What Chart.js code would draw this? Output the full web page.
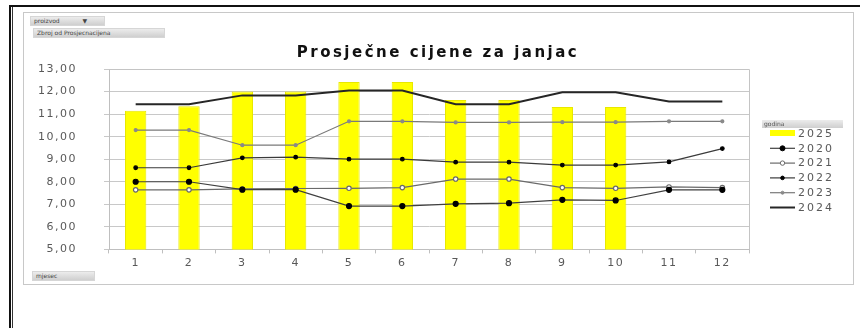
<!DOCTYPE html>
<html>
<head>
<meta charset="utf-8">
<script src="https://cdn.jsdelivr.net/npm/chart.js@4.4.1/dist/chart.umd.min.js"></script>
<style>
  html, body { margin: 0; padding: 0; background: #fff; }
  body { width: 860px; height: 328px; position: relative; overflow: hidden; font-family: "DejaVu Sans", sans-serif; }
  .crnaTop { position: absolute; left: 9px; top: 5px; width: 851px; height: 2px; background: #111; }
  .crnaLijevo { position: absolute; left: 9px; top: 5px; width: 2px; height: 323px; background: #111; }
  .crnaLijevo2 { position: absolute; left: 12px; top: 7px; width: 1px; height: 321px; background: #333; }
  .okvir { position: absolute; left: 23px; top: 12px; width: 829px; height: 271px; border: 1px solid #c8c8c8; }
  .gumb { position: absolute; height: 8px; font-size: 6px; line-height: 8px; color: #444; padding-left: 3px;
          background: linear-gradient(#ececec, #cfcfcf); border: 1px solid #d6d6d6; box-sizing: content-box; white-space: nowrap; }
  #grafWrap { position: absolute; left: 23px; top: 12px; width: 830px; height: 271px; }
</style>
</head>
<body>
<div class="crnaTop"></div>
<div class="crnaLijevo"></div>
<div class="crnaLijevo2"></div>
<div class="okvir"></div>
<div class="gumb" style="left:30px; top:16px; width:70px;">proizvod &nbsp;&nbsp;&nbsp;&nbsp;&nbsp;&nbsp;&nbsp;&nbsp;&nbsp;&nbsp;&nbsp;&#9660;</div>
<div class="gumb" style="left:33px; top:28px; width:127px;">Zbroj od Prosjecnacijena</div>
<div class="gumb" style="left:32px; top:271px; width:58px;">mjesec</div>
<div id="grafWrap"><canvas id="grafica" width="830" height="271"></canvas></div>

<script>
// mjeseci i vrijednosti po godinama
const mjeseci = ['1', '2', '3', '4', '5', '6', '7', '8', '9', '10', '11', '12'];
const god2025 = [11.15, 11.35, 12.0, 12.0, 12.42, 12.42, 11.62, 11.62, 11.32, 11.32, null, null];
const god2020 = [8.0, 8.0, 7.65, 7.65, 6.92, 6.92, 7.02, 7.05, 7.2, 7.17, 7.64, 7.64];
const god2021 = [7.64, 7.64, 7.68, 7.7, 7.71, 7.74, 8.12, 8.12, 7.74, 7.71, 7.77, 7.74];
const god2022 = [8.62, 8.62, 9.06, 9.09, 9.0, 9.0, 8.87, 8.87, 8.74, 8.74, 8.88, 9.47];
const god2023 = [10.29, 10.29, 9.62, 9.62, 10.68, 10.68, 10.63, 10.63, 10.64, 10.64, 10.68, 10.68];
const god2024 = [11.44, 11.44, 11.83, 11.83, 12.05, 12.05, 11.44, 11.44, 11.97, 11.97, 11.56, 11.56];
const yTicks = [5, 6, 7, 8, 9, 10, 11, 12, 13];

const naslov = 'Prosječne cijene za janjac';
const sivaTekst = '#595959';

// naslov, okvir oko podrucja grafa + legenda kao u Excelu
const okvirPlugin = {
    id: 'okvirPlugin',
    beforeDraw(chart) {
        chart.ctx.letterSpacing = '1.5px';
    },
    afterDraw(chart) {
        const ctx = chart.ctx;
        const a = chart.chartArea;
        ctx.save();

        // naslov
        ctx.letterSpacing = '2.5px';
        ctx.font = 'bold 15px "DejaVu Sans"';
        ctx.fillStyle = '#111';
        ctx.textAlign = 'center';
        ctx.textBaseline = 'middle';
        ctx.fillText(naslov, chart.width / 2, 41);
        ctx.textAlign = 'left';

        ctx.strokeStyle = '#c4c4c4';
        ctx.lineWidth = 1;
        ctx.beginPath();
        ctx.moveTo(a.left, a.top + 0.5);
        ctx.lineTo(a.right + 0.5, a.top + 0.5);
        ctx.lineTo(a.right + 0.5, a.bottom);
        ctx.stroke();

        // legenda
        const lx = a.right + 21;
        let ly = a.top + 64;
        const naslovGrad = ctx.createLinearGradient(0, ly - 13, 0, ly - 5);
        naslovGrad.addColorStop(0, '#ececec');
        naslovGrad.addColorStop(1, '#cfcfcf');
        ctx.fillStyle = naslovGrad;
        ctx.fillRect(lx - 8, ly - 13, 81, 8);
        ctx.letterSpacing = '0px';
        ctx.font = '6px "DejaVu Sans"';
        ctx.fillStyle = '#555';
        ctx.fillText('godina', lx - 6, ly - 9);

        ctx.letterSpacing = '2px';
        ctx.font = '11px "DejaVu Sans"';
        chart.data.datasets.forEach(ds => {
            if (ds.type === 'bar') {
                ctx.fillStyle = ds.backgroundColor;
                ctx.fillRect(lx, ly - 3, 25, 6);
            } else {
                ctx.strokeStyle = ds.borderColor;
                ctx.lineWidth = ds.borderWidth;
                ctx.beginPath();
                ctx.moveTo(lx, ly + 0.5);
                ctx.lineTo(lx + 25, ly + 0.5);
                ctx.stroke();
                if (ds.pointRadius > 0) {
                    ctx.beginPath();
                    ctx.arc(lx + 12.5, ly + 0.5, ds.pointRadius, 0, Math.PI * 2);
                    ctx.fillStyle = ds.pointBackgroundColor;
                    ctx.fill();
                    ctx.lineWidth = 1;
                    ctx.strokeStyle = ds.pointBorderColor;
                    ctx.stroke();
                }
            }
            ctx.fillStyle = sivaTekst;
            ctx.fillText(ds.label, lx + 28, ly + 1);
            ly += 14.8;
        });
        ctx.restore();
    }
};

document.addEventListener('DOMContentLoaded', () => {
    const ctx = document.getElementById('grafica').getContext('2d');

    new Chart(ctx, {
        data: {
            labels: mjeseci,
            datasets: [
                {
                    type: 'bar',
                    label: '2025',
                    data: god2025,
                    backgroundColor: '#ffff00',
                    borderColor: '#e8e800',
                    borderWidth: 1,
                    barPercentage: 0.4,
                    categoryPercentage: 1,
                    order: 10
                },
                {
                    type: 'line',
                    label: '2020',
                    data: god2020,
                    borderColor: '#404040',
                    borderWidth: 1.2,
                    pointRadius: 2.5,
                    pointBackgroundColor: '#000',
                    pointBorderColor: '#000',
                    order: 1
                },
                {
                    type: 'line',
                    label: '2021',
                    data: god2021,
                    borderColor: '#6a6a6a',
                    borderWidth: 1.2,
                    pointRadius: 2.2,
                    pointBackgroundColor: '#fff',
                    pointBorderColor: '#6a6a6a',
                    order: 2
                },
                {
                    type: 'line',
                    label: '2022',
                    data: god2022,
                    borderColor: '#3a3a3a',
                    borderWidth: 1.2,
                    pointRadius: 1.8,
                    pointBackgroundColor: '#000',
                    pointBorderColor: '#000',
                    order: 3
                },
                {
                    type: 'line',
                    label: '2023',
                    data: god2023,
                    borderColor: '#7a7a7a',
                    borderWidth: 1.2,
                    pointRadius: 1.5,
                    pointBackgroundColor: '#8a8a8a',
                    pointBorderColor: '#8a8a8a',
                    order: 4
                },
                {
                    type: 'line',
                    label: '2024',
                    data: god2024,
                    borderColor: '#262626',
                    borderWidth: 2,
                    pointRadius: 0,
                    pointBackgroundColor: '#262626',
                    pointBorderColor: '#262626',
                    order: 5
                }
            ]
        },
        options: {
            responsive: false,
            animation: false,
            layout: { padding: { left: 0, right: 104, top: 57, bottom: 0 } },
            plugins: {
                legend: { display: false },
                tooltip: { enabled: false },
                title: { display: false }
            },
            scales: {
                x: {
                    offset: true,
                    grid: { display: true, drawOnChartArea: false, drawTicks: true, tickLength: 4, offset: true, color: '#bfbfbf' },
                    border: { color: '#bfbfbf' },
                    ticks: { color: sivaTekst, font: { family: '"DejaVu Sans"', size: 11 }, padding: 3, maxRotation: 0 },
                    afterFit: scale => { scale.height = 32; }
                },
                y: {
                    min: 5,
                    max: 13,
                    afterBuildTicks: scale => { scale.ticks = yTicks.map(v => ({ value: v })); },
                    grid: { color: '#c8c8c8', tickLength: 5 },
                    border: { color: '#bfbfbf' },
                    ticks: {
                        color: sivaTekst,
                        font: { family: '"DejaVu Sans"', size: 11 },
                        padding: 27,
                        callback: v => v.toFixed(2).replace('.', ',')
                    },
                    afterFit: scale => { scale.width = 86; }
                }
            }
        },
        plugins: [okvirPlugin]
    });
});
</script>
</body>
</html>
